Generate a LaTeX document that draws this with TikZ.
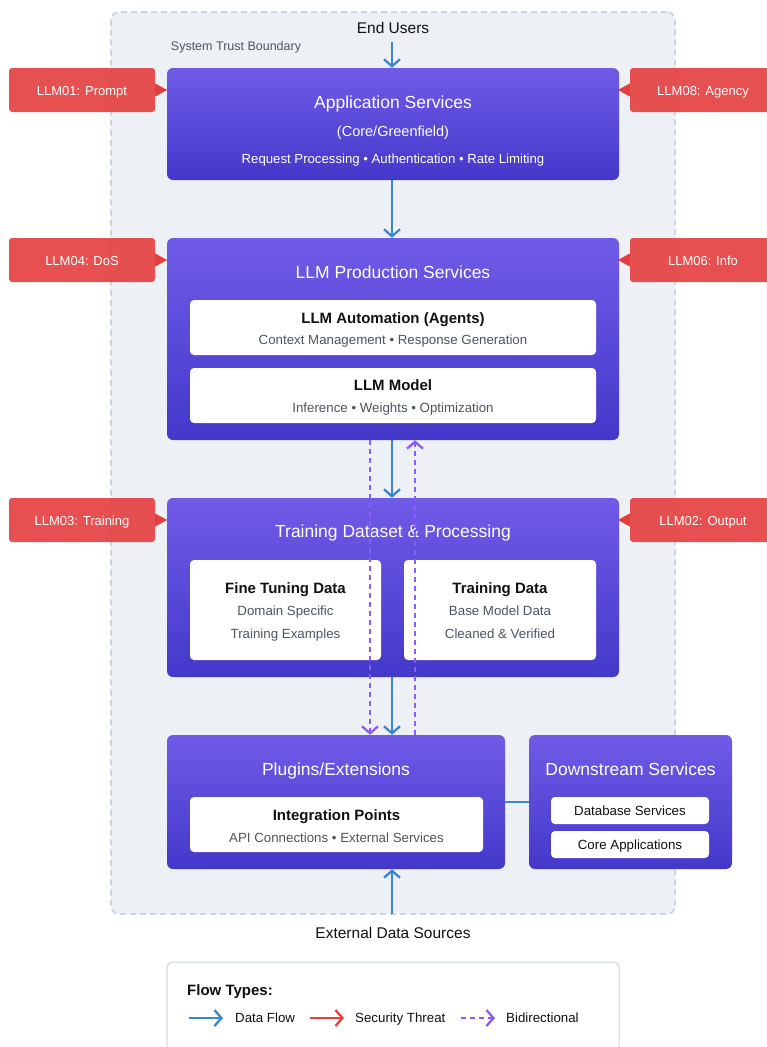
\documentclass[tikz,border=0pt]{standalone}
\usepackage{fontspec}
\setmainfont{Liberation Sans}
\usetikzlibrary{arrows.meta}
\definecolor{ptop}{HTML}{705BE7}
\definecolor{pbot}{HTML}{4338CA}
\definecolor{flowblue}{HTML}{3B86CF}
\definecolor{threat}{HTML}{E53E3E}
\definecolor{bidir}{HTML}{8B5CF6}
\definecolor{bnd}{HTML}{EDF1F6}
\definecolor{bndline}{HTML}{CBD5E1}
\definecolor{subgray}{HTML}{4B5563}
\definecolor{inkdark}{HTML}{111111}
\tikzset{
  txt/.style={inner sep=0pt, text depth=0pt},
  pbox/.style={rectangle, rounded corners=6pt, top color=ptop, bottom color=pbot, draw=none, inner sep=0pt},
  wbox/.style={rectangle, rounded corners=4pt, fill=white, draw=none, inner sep=0pt},
  ttl/.style={txt, text height=12.5pt, text=white, font=\fontsize{17.5}{20}\selectfont},
  ttlsub/.style={txt, text height=10.4pt, text=white, font=\fontsize{14.5}{17}\selectfont},
  ttlsmall/.style={txt, text height=9.5pt, text=white, font=\fontsize{13.2}{15}\selectfont},
  boldlbl/.style={txt, text height=10.8pt, text=inkdark, font=\bfseries\fontsize{15}{18}\selectfont},
  sublbl/.style={txt, text height=9.5pt, text=subgray, font=\fontsize{13.3}{16}\selectfont},
  plainlbl/.style={txt, text height=9.5pt, text=inkdark, font=\fontsize{13.3}{16}\selectfont},
  tagbox/.style={rectangle, rounded corners=3pt, fill=threat, fill opacity=0.9, text opacity=1, text=white, font=\fontsize{13}{16}\selectfont, minimum width=146pt, minimum height=44pt, inner sep=0pt},
  tagtxt/.style={txt, text height=9.3pt, text=white, font=\fontsize{13}{16}\selectfont},
  outer/.style={txt, text height=11.1pt, text=inkdark, font=\fontsize{15.5}{18}\selectfont},
  flow/.style={draw=flowblue, line width=2.3pt, -{Straight Barb[length=7pt,width=16pt,line width=2.3pt]}},
  flowline/.style={draw=flowblue, line width=2.3pt},
  threatarrow/.style={draw=threat, line width=2.3pt, -{Straight Barb[length=7pt,width=16pt,line width=2.3pt]}},
  bidirarrow/.style={draw=bidir, line width=2.3pt, dash pattern=on 5pt off 4pt, -{Straight Barb[length=7pt,width=16pt,line width=2.3pt]}},
}
\begin{document}
\begin{tikzpicture}[x=1pt,y=-1pt]
\useasboundingbox (0,0) rectangle (767,1047);
\fill[white] (0,0) rectangle (767,1047);

% trust boundary
\node[rectangle, rounded corners=8pt, fill=bnd, draw=bndline, line width=1.8pt, dash pattern=on 6pt off 4pt, minimum width=564pt, minimum height=902pt, inner sep=0pt] (tb) at (393,463) {};
\node[txt, text height=9pt, text=subgray, font=\fontsize{12.5}{14}\selectfont] (tblbl) at (236,46) {System Trust Boundary};

% end users
\node[outer] (eu) at (393,28) {End Users};

% application services
\node[pbox, minimum width=452pt, minimum height=112pt] (app) at (393,124) {};
\node[ttl] (apptitle) at (393,102) {Application Services};
\node[ttlsub] (appsub) at (393,131) {(Core/Greenfield)};
\node[ttlsmall] (appfeat) at (393,159) {Request Processing • Authentication • Rate Limiting};

% LLM production
\node[pbox, minimum width=452pt, minimum height=202pt] (llm) at (393,339) {};
\node[ttl] (llmtitle) at (393,272) {LLM Production Services};
\node[wbox, minimum width=406pt, minimum height=55pt] (agents) at (393,327.5) {};
\node[boldlbl] (agentst) at (393,318) {LLM Automation (Agents)};
\node[sublbl] (agentss) at (393,340) {Context Management • Response Generation};
\node[wbox, minimum width=406pt, minimum height=55pt] (model) at (393,395.5) {};
\node[boldlbl] (modelt) at (393,385) {LLM Model};
\node[sublbl] (models) at (393,408) {Inference • Weights • Optimization};

% training
\node[pbox, minimum width=452pt, minimum height=179pt] (train) at (393,587.5) {};
\node[ttl] (traintitle) at (393,531) {Training Dataset \& Processing};
\node[wbox, minimum width=191pt, minimum height=100pt] (fine) at (285.5,610) {};
\node[boldlbl] (finet) at (285.5,588) {Fine Tuning Data};
\node[sublbl] (fines1) at (285.5,611) {Domain Specific};
\node[sublbl] (fines2) at (285.5,634) {Training Examples};
\node[wbox, minimum width=192pt, minimum height=100pt] (tdata) at (500,610) {};
\node[boldlbl] (tdatat) at (500,588) {Training Data};
\node[sublbl] (tdatas1) at (500,611) {Base Model Data};
\node[sublbl] (tdatas2) at (500,634) {Cleaned \& Verified};

% plugins
\node[pbox, minimum width=338pt, minimum height=134pt] (plug) at (336,802) {};
\node[ttl] (plugtitle) at (336,769) {Plugins/Extensions};
\node[wbox, minimum width=293pt, minimum height=55pt] (integ) at (336.5,824.5) {};
\node[boldlbl] (integt) at (336.5,815) {Integration Points};
\node[sublbl] (integs) at (336.5,838) {API Connections • External Services};

% downstream
\node[pbox, minimum width=203pt, minimum height=134pt] (down) at (630.5,802) {};
\node[ttl] (downtitle) at (630.5,769) {Downstream Services};
\node[wbox, minimum width=158pt, minimum height=27pt] (db) at (630,810.5) {};
\node[plainlbl] (dbt) at (630,810.5) {Database Services};
\node[wbox, minimum width=158pt, minimum height=27pt] (core) at (630,844.5) {};
\node[plainlbl] (coret) at (630,844.5) {Core Applications};

% external
\node[outer] (ext) at (393,933) {External Data Sources};
\coordinate (extsrc) at (392,914);

% threat tags
\node[tagbox] (t1) at (82,90) {};
\node[tagtxt] (t1t) at (82,91) {LLM01: Prompt};
\node[tagbox] (t4) at (82,260) {};
\node[tagtxt] (t4t) at (82,261) {LLM04: DoS};
\node[tagbox] (t3) at (82,520) {};
\node[tagtxt] (t3t) at (82,521) {LLM03: Training};
\node[tagbox] (t8) at (703,90) {};
\node[tagtxt] (t8t) at (703,91) {LLM08: Agency};
\node[tagbox] (t6) at (703,260) {};
\node[tagtxt] (t6t) at (703,261) {LLM06: Info};
\node[tagbox] (t2) at (703,520) {};
\node[tagtxt] (t2t) at (703,521) {LLM02: Output};
\foreach \t in {t1,t4,t3}{
  \fill[threat] ([yshift=6.5pt]\t.east) -- ([xshift=12pt]\t.east) -- ([yshift=-6.5pt]\t.east) -- cycle;
}
\foreach \t in {t8,t6,t2}{
  \fill[threat] ([yshift=6.5pt]\t.west) -- ([xshift=-12pt]\t.west) -- ([yshift=-6.5pt]\t.west) -- cycle;
}

% flows
\coordinate (eua) at (392,42);
\draw[flow] (eua) -- (eua |- app.north);
\draw[flow] ([xshift=-1pt]app.south) -- ([xshift=-1pt]llm.north);
\draw[flow] ([xshift=-1pt]llm.south) -- ([xshift=-1pt]train.north);
\draw[flow] ([xshift=-1pt]train.south) -- ([xshift=-1pt]train.south |- plug.north);
\draw[flow] (extsrc) -- (extsrc |- plug.south);
\draw[flowline] (plug) -- (down);

% bidirectional dashed (on top of everything)
\coordinate (bdA) at ([xshift=-23pt]llm.south);
\coordinate (bdB) at ([xshift=22pt]llm.south);
\draw[bidirarrow] (bdA) -- (bdA |- plug.north);
\draw[bidirarrow] (bdB |- plug.north) -- (bdB);

% legend
\node[rectangle, rounded corners=6pt, fill=white, draw=bndline, line width=1pt, minimum width=452pt, minimum height=120pt, inner sep=0pt] (legend) at (393,1022) {};
\node[anchor=west, txt, text height=10.8pt, text=inkdark, font=\bfseries\fontsize{15}{18}\selectfont] (legt) at (187,990) {Flow Types:};
\coordinate (la1) at (189,1018); \coordinate (lb1) at (223,1018);
\draw[flow] (la1) -- (lb1);
\node[anchor=west, plainlbl] (ll1) at (235,1018) {Data Flow};
\coordinate (la2) at (310,1018); \coordinate (lb2) at (344,1018);
\draw[threatarrow] (la2) -- (lb2);
\node[anchor=west, plainlbl] (ll2) at (355,1018) {Security Threat};
\coordinate (la3) at (461,1018); \coordinate (lb3) at (495,1018);
\draw[bidirarrow] (la3) -- (lb3);
\node[anchor=west, plainlbl] (ll3) at (506,1018) {Bidirectional};
\end{tikzpicture}
\end{document}
